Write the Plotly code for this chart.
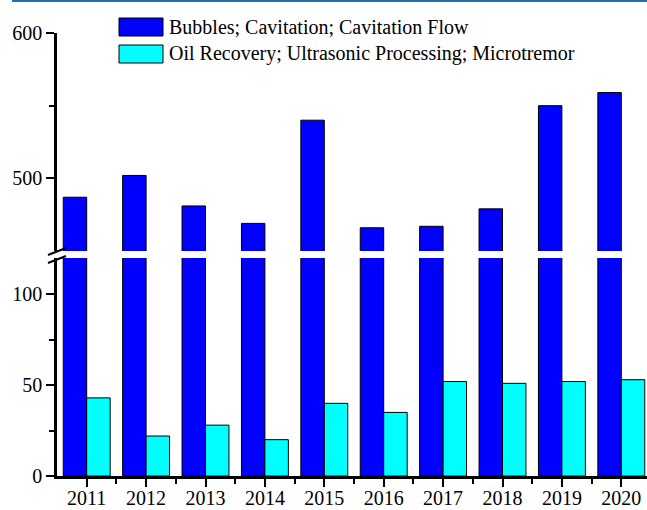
import plotly.graph_objects as go

# Publication counts per year for the two keyword groups
years = [2011, 2012, 2013, 2014, 2015, 2016, 2017, 2018, 2019, 2020]
bubbles_cavitation = [487, 502, 481, 469, 540, 466, 467, 479, 550, 559]
oil_ultrasonic = [43, 22, 28, 20, 40, 35, 52, 51, 52, 53]

series_names = ["Bubbles; Cavitation; Cavitation Flow",
                "Oil Recovery; Ultrasonic Processing; Microtremor"]

BLUE = "#0000FF"
CYAN = "#00FFFF"
FONT = "Liberation Serif, Times New Roman, serif"

W, H = 647, 510
ML, MR, MT, MB = 57, 0, 33, 34
PW, PH = W - ML - MR, H - MT - MB

def px_x(px):
    return (px - ML) / PW

def px_y(py):
    return (H - MB - py) / PH

bar_w = 0.395
fig = go.Figure()

# Lower segment of the broken axis (both series)
fig.add_trace(go.Bar(x=years, y=bubbles_cavitation, width=bar_w, offset=-bar_w,
                     marker=dict(color=BLUE, line=dict(color="black", width=1)),
                     yaxis="y", showlegend=False, name=series_names[0]))
fig.add_trace(go.Bar(x=years, y=oil_ultrasonic, width=bar_w, offset=0,
                     marker=dict(color=CYAN, line=dict(color="black", width=1)),
                     yaxis="y", showlegend=False, name=series_names[1]))
# Upper segment of the broken axis
fig.add_trace(go.Bar(x=years, y=bubbles_cavitation, width=bar_w, offset=-bar_w,
                     marker=dict(color=BLUE, line=dict(color="black", width=1)),
                     yaxis="y2", showlegend=False, name=series_names[0]))

axis_common = dict(showline=True, linecolor="black", linewidth=2.5,
                   ticks="outside", ticklen=8, tickwidth=2, tickcolor="black",
                   showgrid=False, zeroline=False, automargin=False,
                   tickfont=dict(family=FONT, size=20, color="black"))

lower_top = px_y(258)
upper_bottom = px_y(251)

fig.update_layout(
    width=W, height=H,
    margin=dict(l=ML, r=MR, t=MT, b=MB),
    paper_bgcolor="white", plot_bgcolor="white",
    font=dict(family=FONT, color="black"),
    barmode="overlay",
    showlegend=False,
    xaxis=dict(range=[2010.5, 2010.5 + PW / 59.4], tickvals=years,
               tickformat="d", ticklabelstandoff=-6,
               minor=dict(tickvals=[y + 0.5 for y in years], ticklen=5,
                          tickwidth=2, tickcolor="black", ticks="outside"),
               **axis_common),
    yaxis=dict(domain=[0, lower_top], range=[0, 120], tickvals=[0, 50, 100],
               minor=dict(tickvals=[25, 75], ticklen=5, tickwidth=2,
                          tickcolor="black", ticks="outside"),
               **axis_common),
    yaxis2=dict(domain=[upper_bottom, 1], range=[450, 600], tickvals=[500, 600],
                anchor="x",
                minor=dict(tickvals=[550], ticklen=5, tickwidth=2,
                           tickcolor="black", ticks="outside"),
                **axis_common),
)

shapes = []
# Break marks on the value axis
for y0 in (255, 263):
    shapes.append(dict(type="line", xref="paper", yref="paper",
                       x0=px_x(48), y0=px_y(y0), x1=px_x(66), y1=px_y(y0 - 7),
                       line=dict(color="black", width=2)))
# Thin rule along the top edge
shapes.append(dict(type="line", xref="paper", yref="paper",
                   x0=px_x(12), x1=px_x(W), y0=px_y(1), y1=px_y(1),
                   line=dict(color="#1f6fb4", width=2)))

# Legend drawn as swatches with labels
annotations = []
legend_rows = [(BLUE, 18, 36), (CYAN, 45, 63)]
for (color, top, bottom), label in zip(legend_rows, series_names):
    shapes.append(dict(type="rect", xref="paper", yref="paper",
                       x0=px_x(119), x1=px_x(163), y0=px_y(bottom), y1=px_y(top),
                       fillcolor=color, line=dict(color="black", width=1)))
    annotations.append(dict(xref="paper", yref="paper", x=px_x(167),
                            y=px_y((top + bottom) / 2), text=label,
                            showarrow=False, xanchor="left", yanchor="middle",
                            font=dict(family=FONT, size=20, color="black")))

fig.update_layout(shapes=shapes, annotations=annotations)

fig.write_html("out.html")
